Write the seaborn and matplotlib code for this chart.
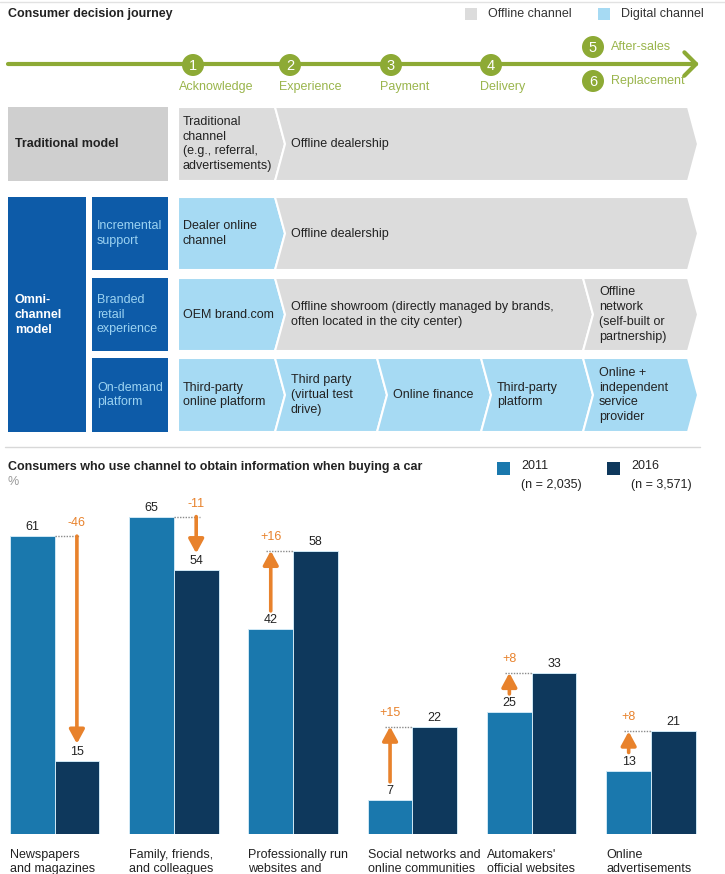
import numpy as np
import pandas as pd
import matplotlib
matplotlib.use("Agg")
import matplotlib.pyplot as plt
import seaborn as sns
from matplotlib.patches import Polygon, Rectangle, Circle

# ---- data: bar chart ----
categories = ["Newspapers\nand magazines", "Family, friends,\nand colleagues",
              "Professionally run\nwebsites and", "Social networks and\nonline communities",
              "Automakers'\nofficial websites", "Online\nadvertisements"]
share_2011 = [61, 65, 42, 7, 25, 13]
share_2016 = [15, 54, 58, 22, 33, 21]
years = ["2011", "2016"]
sample_sizes = ["(n = 2,035)", "(n = 3,571)"]
bar_colors = ["#1A78AD", "#0E385C"]

# ---- data: journey diagram ----
journey_steps = ["Acknowledge", "Experience", "Payment", "Delivery"]
after_steps = ["After-sales", "Replacement"]
channel_legend = ["Offline channel", "Digital channel"]
row_labels = ["Traditional model", "Incremental\nsupport", "Branded\nretail\nexperience",
              "On-demand\nplatform"]
omni_label = "Omni-\nchannel\nmodel"
row_cells = [
    ["Traditional\nchannel\n(e.g., referral,\nadvertisements)", "Offline dealership"],
    ["Dealer online\nchannel", "Offline dealership"],
    ["OEM brand.com", "Offline showroom (directly managed by brands,\noften located in the city center)",
     "Offline\nnetwork\n(self-built or\npartnership)"],
    ["Third-party\nonline platform", "Third party\n(virtual test\ndrive)", "Online finance",
     "Third-party\nplatform", "Online +\nindependent\nservice\nprovider"],
]
row_kinds = [
    ["off", "off"],
    ["dig", "off"],
    ["dig", "off", "off"],
    ["dig", "dig", "dig", "dig", "dig"],
]

# ---- style ----
sns.set_theme(style="white")
plt.rcParams["font.family"] = ["Liberation Sans", "DejaVu Sans"]
GREEN = "#8DAA35"
GREEN_TXT = "#9AB54C"
ORANGE = "#E8822C"
OFF = "#DCDCDC"
DIG = "#A6DAF3"
DARKBLUE = "#0D5BA8"
TXT = "#222222"
LS = 1.3
kind_color = {"off": OFF, "dig": DIG}

fig = plt.figure(figsize=(7.25, 8.74), dpi=100)

# overlay in pixel units for the diagram
ov = fig.add_axes([0, 0, 1, 1], zorder=2)
ov.set_xlim(0, 725)
ov.set_ylim(874, 0)
ov.axis("off")

# ====== top: consumer decision journey ======
ov.plot([0, 725], [1.5, 1.5], color="#E2E2E2", lw=1)
ov.text(8, 14, "Consumer decision journey", fontsize=9, fontweight="bold", color=TXT, va="center")
for lx, lab, col in zip([465, 598], channel_legend, [OFF, DIG]):
    ov.add_patch(Rectangle((lx, 8), 12, 12, fc=col, ec="none"))
    ov.text(lx + 23, 14, lab, fontsize=9, color="#333333", va="center")

ov.annotate("", xy=(699, 64), xytext=(8, 64),
            arrowprops=dict(arrowstyle="->,head_length=0.7,head_width=0.7", lw=3,
                            color=GREEN, shrinkA=0, shrinkB=0))
step_x = [193, 290, 391, 491]
for i, (cx, name) in enumerate(zip(step_x, journey_steps)):
    ov.add_patch(Circle((cx, 65), 11, fc=GREEN, ec="none", zorder=3))
    ov.text(cx, 65.5, str(i + 1), color="white", fontsize=10.5, ha="center", va="center", zorder=4)
    ov.text(cx - 14 if i == 0 else cx - 11, 87, name, color=GREEN_TXT, fontsize=9, va="center")
for j, (cy, name) in enumerate(zip([47, 81], after_steps)):
    ov.add_patch(Circle((593, cy), 11, fc=GREEN, ec="none", zorder=3))
    ov.text(593, cy + 0.5, str(5 + j), color="white", fontsize=10.5, ha="center", va="center", zorder=4)
    ov.text(611, cy, name, color=GREEN_TXT, fontsize=9, va="center")


def chevron(a, b, top, bot, color, notch, d=10):
    mid = (top + bot) / 2
    pts = [(a, top), (b, top), (b + d, mid), (b, bot), (a, bot)]
    if notch:
        pts.append((a + d, mid))
    ov.add_patch(Polygon(pts, closed=True, fc=color, ec="white", lw=1.5))


row_y = [(107, 181), (197, 270), (278, 351), (358, 432)]
row_bounds = [[178, 275, 688], [178, 275, 688], [178, 275, 583, 688],
              [178, 275, 377, 481, 583, 688]]

# left labels
ov.add_patch(Rectangle((8, 107), 160, 74, fc="#CFCFCF", ec="none"))
ov.text(15, 144, row_labels[0], fontsize=9, fontweight="bold", color=TXT, va="center")
ov.add_patch(Rectangle((8, 197), 78, 235, fc=DARKBLUE, ec="none"))
ov.text(15, 315, omni_label, fontsize=9, fontweight="bold", color="white", va="center",
        linespacing=LS)
for (t, b), lab in zip(row_y[1:], row_labels[1:]):
    ov.add_patch(Rectangle((92, t), 76, b - t, fc=DARKBLUE, ec="none"))
    ov.text(97, (t + b) / 2, lab, fontsize=9, color="#9CD3F2", va="center", linespacing=LS)

for (t, b), bounds, cells, kinds in zip(row_y, row_bounds, row_cells, row_kinds):
    for k, (cell, kind) in enumerate(zip(cells, kinds)):
        a, e = bounds[k], bounds[k + 1]
        chevron(a, e, t, b, kind_color[kind], notch=k > 0)
        ov.text(a + (5 if k == 0 else 16), (t + b) / 2, cell, fontsize=9, color=TXT,
                va="center", ha="left", linespacing=LS)

ov.plot([5, 700], [447, 447], color="#D8D8D8", lw=1)

# ====== bottom: bar chart ======
ov.text(8, 467, "Consumers who use channel to obtain information when buying a car",
        fontsize=9, fontweight="bold", color=TXT, va="center")
ov.text(8, 482, "%", fontsize=9, color="#999999", va="center")
for lx, yr, n, col in zip([497, 607], years, sample_sizes, bar_colors):
    ov.add_patch(Rectangle((lx, 462), 13, 13, fc=col, ec="none"))
    ov.text(lx + 24, 466, yr, fontsize=9, color=TXT, va="center")
    ov.text(lx + 24, 485, n, fontsize=9, color=TXT, va="center")

ax = fig.add_axes([0, 40 / 874, 1, 334 / 874], zorder=1)
df = pd.DataFrame({
    "channel": categories * 2,
    "year": [years[0]] * len(categories) + [years[1]] * len(categories),
    "share": share_2011 + share_2016,
})
sns.barplot(data=df, x="channel", y="share", hue="year", palette=bar_colors, width=0.75,
            gap=0, saturation=1, edgecolor="#CFE8F5", linewidth=0.7, legend=False, ax=ax)
ax.set_xlim(-0.457, 5.62)
ax.set_ylim(0, 68.4)
ax.set_yticks([])
ax.set_xticks(np.arange(len(categories)) - 0.375, categories, ha="left")
ax.tick_params(axis="x", length=0, pad=10.5, labelsize=9, labelcolor=TXT)
for t in ax.get_xticklabels():
    t.set_linespacing(LS)
ax.set_xlabel("")
ax.set_ylabel("")
sns.despine(ax=ax, left=True, bottom=True)

px = 1 / 4.88  # one pixel in data units
off = 0.1875
for i, (s1, s2) in enumerate(zip(share_2011, share_2016)):
    ax.text(i - off, s1 + 9 * px, str(s1), ha="center", va="center", fontsize=9, color=TXT)
    ax.text(i + off, s2 + 9 * px, str(s2), ha="center", va="center", fontsize=9, color=TXT)
    diff = s2 - s1
    lab = f"+{diff}" if diff > 0 else f"{diff}"
    if diff < 0:
        xa = i + off
        ax.plot([i, xa + 0.03], [s1, s1], ls=(0, (1, 1)), color="#8A8A8A", lw=1)
        ax.annotate("", xy=(xa, s2 + 17 * px), xytext=(xa, s1),
                    arrowprops=dict(arrowstyle="-|>,head_length=0.7,head_width=0.38", lw=2.6,
                                    color=ORANGE, shrinkA=0, shrinkB=0))
        ax.text(xa, s1 + 13 * px, lab, ha="center", va="center", fontsize=9, color=ORANGE)
    else:
        xa = i - off
        ax.plot([xa - 0.04, i], [s2, s2], ls=(0, (1, 1)), color="#8A8A8A", lw=1)
        ax.annotate("", xy=(xa, s2), xytext=(xa, s1 + 18 * px),
                    arrowprops=dict(arrowstyle="-|>,head_length=0.7,head_width=0.38", lw=2.6,
                                    color=ORANGE, shrinkA=0, shrinkB=0))
        ax.text(xa, s2 + 14 * px, lab, ha="center", va="center", fontsize=9, color=ORANGE)

fig.savefig("out.png", dpi=100)
